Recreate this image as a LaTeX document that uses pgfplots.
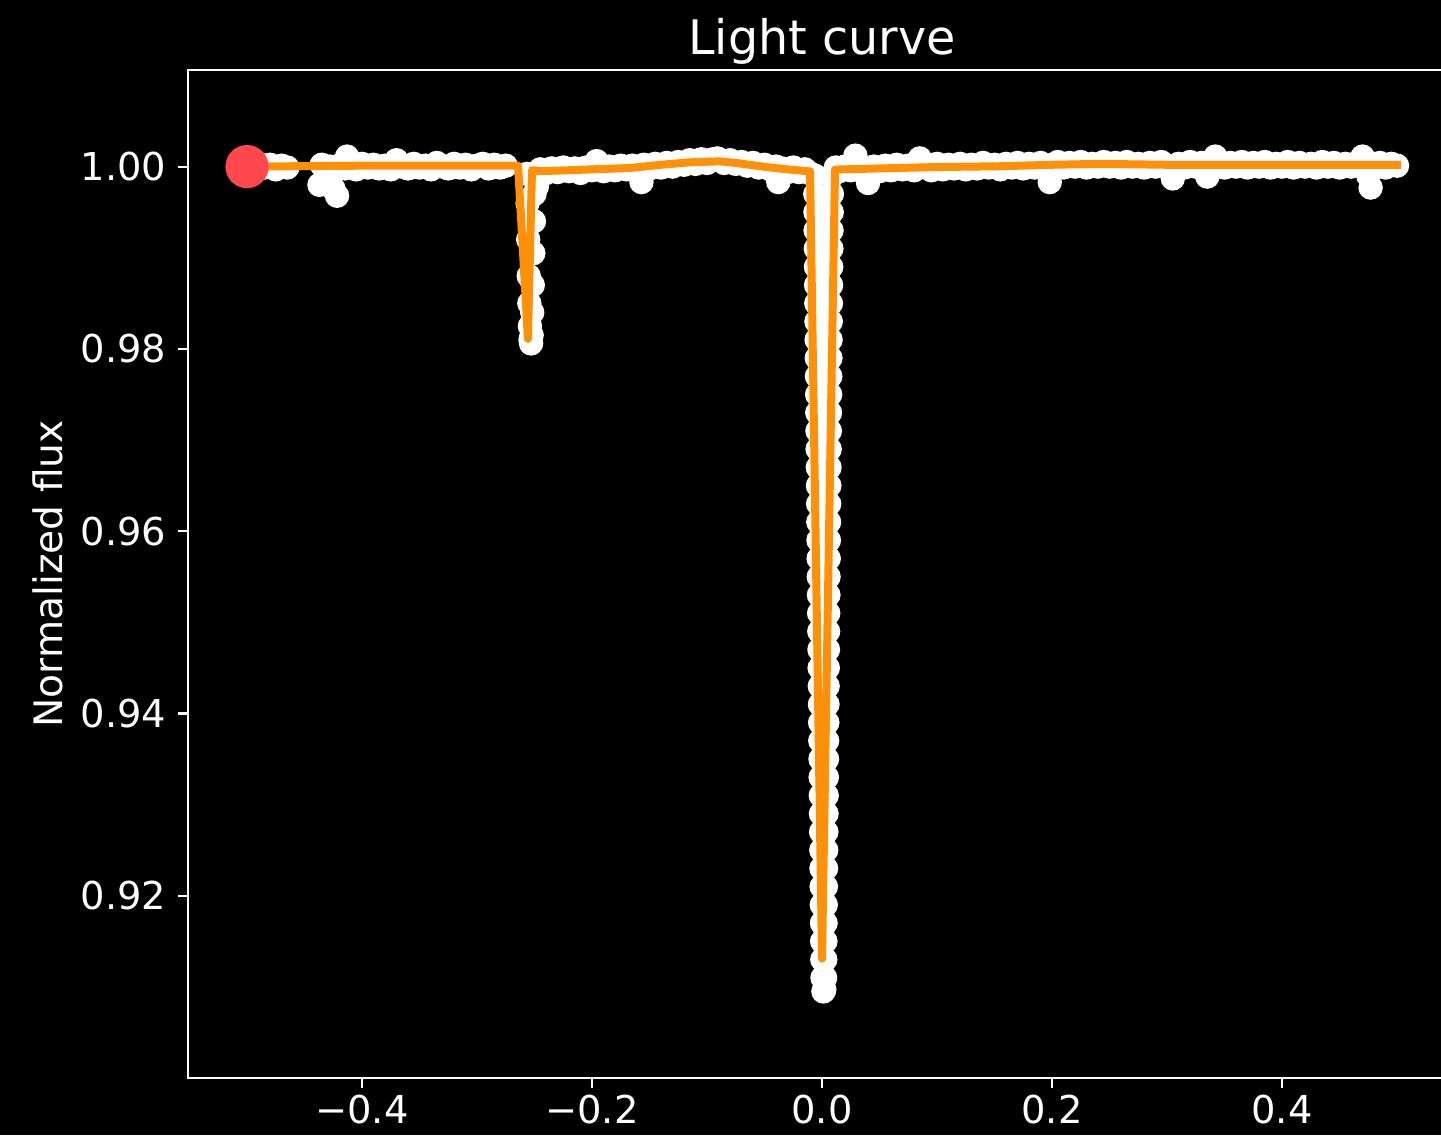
\documentclass[border=0pt]{standalone}
\usepackage{fontspec}
\setmainfont{DejaVu Sans}
\usepackage{pgfplots}
\pgfplotsset{compat=1.18}
\definecolor{lcorange}{RGB}{255,145,10}
\definecolor{reddot}{RGB}{255,71,76}
\begin{document}
\begin{tikzpicture}
\path[use as bounding box, fill=black] (-47pt,-14.25pt) rectangle (313.25pt,269.5pt);
\begin{axis}[
  at={(0,0)}, anchor=south west,
  scale only axis, width=317pt, height=252pt,
  xmin=-0.5513, xmax=0.5513, ymin=0.9000, ymax=1.0106,
  clip marker paths=true,
  axis line style={white, line width=0.55pt},
  tick style={white, line width=0.55pt},
  major tick length=2.5pt,
  tick align=outside,
  xtick pos=bottom, ytick pos=left,
  xtick={-0.4,-0.2,0,0.2,0.4},
  xticklabels={−0.4,−0.2,0.0,0.2,0.4},
  ytick={0.92,0.94,0.96,0.98,1.00},
  yticklabels={0.92,0.94,0.96,0.98,1.00},
  xticklabel style={white, font=\fontsize{9.6}{11}\selectfont, anchor=north, inner sep=0pt, yshift=-1.5pt},
  yticklabel style={white, font=\fontsize{9.6}{11}\selectfont, anchor=east, inner sep=0pt, xshift=-2.75pt},
  title={Light curve},
  title style={white, font=\fontsize{11.9}{14}\selectfont, at={(axis description cs:0.5,1)}, anchor=center, yshift=1.25pt},
  ylabel={Normalized flux},
  ylabel style={white, font=\fontsize{9.8}{12}\selectfont, at={(axis description cs:0,0.5)}, anchor=center, yshift=35pt},
]
% observed points (white scatter)
\addplot[only marks, mark=*, mark size=2.85pt, color=white] table {
x y
-0.500 1.0001
-0.495 0.9998
-0.490 1.0003
-0.485 0.9999
-0.480 1.0002
-0.475 0.9997
-0.470 1.0001
-0.465 0.9999
-0.437 0.9980
-0.435 1.0002
-0.430 0.9986
-0.428 1.0000
-0.425 0.9976
-0.4217 0.9968
-0.420 1.0001
-0.415 0.9998
-0.413 1.0011
-0.410 1.0000
-0.405 0.9997
-0.400 1.0003
-0.395 0.9999
-0.390 1.0002
-0.385 0.9998
-0.380 1.0001
-0.375 0.9997
-0.370 1.0007
-0.365 1.0000
-0.360 0.9998
-0.355 1.0003
-0.350 0.9999
-0.345 1.0001
-0.340 0.9997
-0.335 1.0004
-0.330 1.0000
-0.325 0.9998
-0.320 1.0003
-0.315 0.9999
-0.310 1.0002
-0.305 0.9997
-0.300 1.0001
-0.295 1.0003
-0.290 0.9998
-0.285 1.0002
-0.280 0.9999
-0.275 1.0001
-0.2565 0.9992
-0.2560 0.9960
-0.2555 0.9920
-0.2550 0.9880
-0.2545 0.9850
-0.2540 0.9825
-0.2535 0.9810
-0.2530 0.9806
-0.2525 0.9815
-0.2520 0.9840
-0.2515 0.9870
-0.2510 0.9905
-0.2505 0.9940
-0.2500 0.9970
-0.2495 0.9990
-0.2480 0.9978
-0.2470 0.9985
-0.245 0.9997
-0.240 0.9993
-0.235 0.9998
-0.230 0.9994
-0.225 0.9999
-0.220 0.9995
-0.215 0.9998
-0.210 0.9993
-0.205 0.9999
-0.200 0.9996
-0.196 1.0006
-0.190 0.9995
-0.185 1.0000
-0.180 0.9996
-0.175 1.0001
-0.170 0.9997
-0.165 1.0001
-0.160 0.9996
-0.157 0.9983
-0.155 1.0002
-0.150 0.9998
-0.145 1.0003
-0.140 0.9999
-0.135 1.0004
-0.130 1.0000
-0.125 1.0005
-0.120 1.0002
-0.115 1.0007
-0.110 1.0003
-0.105 1.0008
-0.100 1.0004
-0.095 1.0008
-0.091 1.0009
-0.085 1.0004
-0.080 1.0007
-0.075 1.0003
-0.070 1.0005
-0.065 1.0001
-0.060 1.0004
-0.055 0.9999
-0.050 1.0002
-0.045 0.9997
-0.040 1.0000
-0.038 0.9983
-0.035 0.9998
-0.030 0.9994
-0.025 0.9999
-0.020 0.9994
-0.015 0.9997
-0.011 0.9993
-0.00600 0.999
-0.00585 0.997
-0.00571 0.995
-0.00556 0.993
-0.00542 0.991
-0.00527 0.989
-0.00513 0.987
-0.00498 0.985
-0.00484 0.983
-0.00469 0.981
-0.00455 0.979
-0.00440 0.977
-0.00426 0.975
-0.00411 0.973
-0.00397 0.971
-0.00382 0.969
-0.00368 0.967
-0.00353 0.965
-0.00338 0.963
-0.00324 0.961
-0.00309 0.959
-0.00295 0.957
-0.00280 0.955
-0.00266 0.953
-0.00251 0.951
-0.00237 0.949
-0.00222 0.947
-0.00208 0.945
-0.00193 0.943
-0.00179 0.941
-0.00164 0.939
-0.00150 0.937
-0.00135 0.935
-0.00121 0.933
-0.00106 0.931
-0.00092 0.929
-0.00077 0.927
-0.00062 0.925
-0.00048 0.923
-0.00033 0.921
-0.00019 0.919
-0.00004 0.917
0.00010 0.915
0.00025 0.913
0.00039 0.911
0.00120 0.9095
0.00200 0.9097
0.00270 0.911
0.00284 0.913
0.00297 0.915
0.00311 0.917
0.00325 0.919
0.00338 0.921
0.00352 0.923
0.00366 0.925
0.00379 0.927
0.00393 0.929
0.00407 0.931
0.00420 0.933
0.00434 0.935
0.00447 0.937
0.00461 0.939
0.00475 0.941
0.00488 0.943
0.00502 0.945
0.00516 0.947
0.00529 0.949
0.00543 0.951
0.00556 0.953
0.00570 0.955
0.00584 0.957
0.00597 0.959
0.00611 0.961
0.00625 0.963
0.00638 0.965
0.00652 0.967
0.00666 0.969
0.00679 0.971
0.00693 0.973
0.00706 0.975
0.00720 0.977
0.00734 0.979
0.00747 0.981
0.00761 0.983
0.00775 0.985
0.00788 0.987
0.00802 0.989
0.00816 0.991
0.00829 0.993
0.00843 0.995
0.00856 0.997
0.00870 0.999
0.012 0.9999
0.015 0.9995
0.020 1.0000
0.025 0.9996
0.029 1.0012
0.033 0.9998
0.036 0.9994
0.040 0.9982
0.045 1.0000
0.050 0.9995
0.055 1.0001
0.060 0.9996
0.065 1.0002
0.070 0.9997
0.075 1.0001
0.080 0.9996
0.085 1.0009
0.090 0.9999
0.095 0.9996
0.100 1.0003
0.105 0.9997
0.110 1.0002
0.115 0.9998
0.120 1.0003
0.125 0.9997
0.130 1.0002
0.135 0.9998
0.140 1.0004
0.145 0.9999
0.150 1.0002
0.155 0.9997
0.160 1.0003
0.165 0.9999
0.170 1.0004
0.175 0.9998
0.180 1.0003
0.185 0.9999
0.190 1.0004
0.195 0.9999
0.198 0.9983
0.200 1.0002
0.205 1.0005
0.210 0.9999
0.215 1.0004
0.220 1.0000
0.225 1.0005
0.230 0.9999
0.235 1.0003
0.240 1.0000
0.245 1.0005
0.250 1.0000
0.255 1.0004
0.260 0.9999
0.265 1.0005
0.270 1.0000
0.275 1.0003
0.280 0.9999
0.285 1.0004
0.290 1.0000
0.295 1.0005
0.300 0.9999
0.305 0.9987
0.310 1.0003
0.315 0.9999
0.320 1.0005
0.325 1.0000
0.330 1.0004
0.335 0.9989
0.342 1.0011
0.345 1.0003
0.350 0.9999
0.355 1.0004
0.360 1.0000
0.365 1.0005
0.370 0.9999
0.375 1.0004
0.380 1.0000
0.385 1.0005
0.390 0.9999
0.395 1.0003
0.400 1.0000
0.405 1.0005
0.410 0.9999
0.415 1.0004
0.420 1.0000
0.425 1.0003
0.430 0.9999
0.435 1.0005
0.440 1.0000
0.445 1.0004
0.450 0.9999
0.455 1.0003
0.460 1.0000
0.465 1.0004
0.470 1.0011
0.475 0.9990
0.477 0.9977
0.480 1.0001
0.485 1.0004
0.490 0.9999
0.495 1.0003
0.500 1.0001
};
% model (orange line)
\addplot[color=lcorange, line width=2pt, line join=round, line cap=rect, mark=none] table {
x y
-0.500 1.0000
-0.400 1.0001
-0.300 1.0001
-0.2643 1.0001
-0.2557 0.9811
-0.2522 0.9996
-0.245 0.9995
-0.220 0.9996
-0.200 0.9997
-0.167 0.99985
-0.140 1.0002
-0.115 1.00047
-0.089 1.00058
-0.075 1.0004
-0.063 1.0002
-0.045 0.9999
-0.028 0.99967
-0.0104 0.99948
0.0000 0.9131
0.0113 0.99967
0.050 0.9998
0.100 0.99995
0.155 1.00004
0.200 1.0002
0.242 1.0003
0.300 1.0002
0.500 1.0002
};
% current phase marker
\addplot[only marks, mark=*, mark size=5.2pt, color=reddot] coordinates {(-0.5,1.0)};
\end{axis}
\end{tikzpicture}
\end{document}
